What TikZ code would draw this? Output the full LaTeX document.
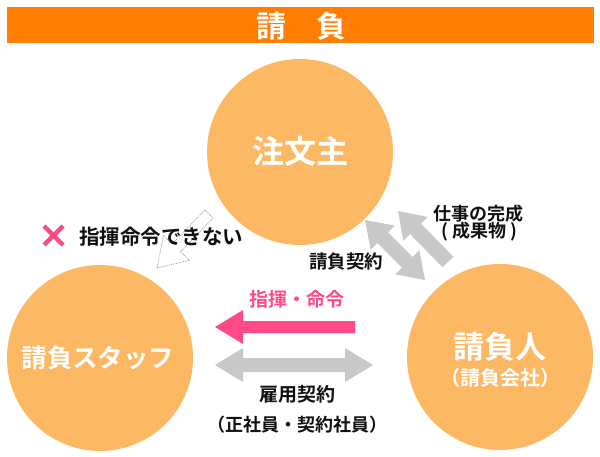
\documentclass[tikz,border=0pt]{standalone}
\usepackage{fontspec}
\setmainfont{Noto Sans CJK JP}[BoldFont=* Bold]
\usetikzlibrary{calc}
\definecolor{barorange}{HTML}{FF7D00}
\definecolor{circorange}{HTML}{FDB863}
\definecolor{pinkc}{HTML}{FF4A86}
\definecolor{grayc}{HTML}{C8C8C8}
\definecolor{dotgray}{HTML}{9A9A9A}
\definecolor{txtc}{HTML}{111111}
% double-headed block arrow: style, tip A, tip B, head length, shaft half width, head half width
\newcommand{\dblarrow}[6]{%
  \coordinate (c1) at ($(#3)!#4!(#2)$);
  \coordinate (c2) at ($(#2)!#4!(#3)$);
  \path[#1] (#3) -- ($(c1)!#6!90:(#3)$) -- ($(c1)!#5!90:(#3)$) -- ($(c2)!#5!90:(#3)$) -- ($(c2)!#6!90:(#3)$) -- (#2)
    -- ($(c2)!#6!-90:(#3)$) -- ($(c2)!#5!-90:(#3)$) -- ($(c1)!#5!-90:(#3)$) -- ($(c1)!#6!-90:(#3)$) -- cycle;}
% single block arrow: style, tail A, tip B, head length, shaft half width, head half width
\newcommand{\sglarrow}[6]{%
  \coordinate (c1) at ($(#3)!#4!(#2)$);
  \path[#1] ($(#2)!#5!90:(#3)$) -- ($(c1)!#5!90:(#3)$) -- ($(c1)!#6!90:(#3)$) -- (#3)
    -- ($(c1)!#6!-90:(#3)$) -- ($(c1)!#5!-90:(#3)$) -- ($(#2)!#5!-90:(#3)$) -- cycle;}
\tikzset{
  party/.style={circle, fill=circorange, minimum size=186pt, inner sep=0pt},
  wtext/.style={text=white, font=\bfseries, inner sep=0pt},
  btext/.style={text=txtc, font=\bfseries, inner sep=0pt},
}
\begin{document}
\begin{tikzpicture}[x=1pt, y=-1pt]
\useasboundingbox (0,0) rectangle (600,457);
\fill[white] (0,0) rectangle (600,457);
% title bar
\node[fill=barorange, minimum width=587pt, minimum height=36pt, inner sep=0pt] (bar) at (300.5,25) {};
\node[wtext, font=\bfseries\fontsize{30}{32}\selectfont] (title) at (301,26) {請　負};
% circles
\node[party] (client) at (300,152) {};
\node[party] (staff) at (100,358) {};
\node[party] (contractor) at (500,357) {};
\node[wtext, font=\bfseries\fontsize{32}{34}\selectfont] (clientlbl) at (300,151) {注文主};
\node[wtext, font=\bfseries\fontsize{25.5}{28}\selectfont] (stafflbl) at (98,358) {請負スタッフ};
\node[wtext, font=\bfseries\fontsize{31}{33}\selectfont] (contrlbl) at (500,347) {請負人};
\node[wtext, font=\bfseries\fontsize{20}{22}\selectfont] (contrsub) at (500,378) {（請負会社）};
% arrows
\coordinate (pinkA) at (355,327);
\coordinate (pinkB) at (215,327);
\sglarrow{fill=pinkc}{pinkA}{pinkB}{28pt}{6pt}{17pt}
\coordinate (empA) at (215,365);
\coordinate (empB) at (373,365);
\dblarrow{fill=grayc}{empA}{empB}{28pt}{7pt}{17pt}
\coordinate (conA) at (365,220);
\coordinate (conB) at (425,280);
\dblarrow{fill=grayc}{conA}{conB}{25pt}{7.5pt}{17pt}
\coordinate (workA) at (448,262);
\coordinate (workB) at (398,211);
\sglarrow{fill=grayc}{workA}{workB}{25pt}{7.5pt}{17pt}
\coordinate (noA) at (209,214);
\coordinate (noB) at (157,268);
\sglarrow{draw=dotgray, densely dotted, line width=0.8pt}{noA}{noB}{28pt}{5.7pt}{18pt}
% labels
\node[btext, text=pinkc, font=\bfseries\fontsize{19}{21}\selectfont] (cmd) at (297,299) {指揮・命令};
\node[btext, font=\bfseries\fontsize{19}{21}\selectfont] (emp) at (297,394) {雇用契約};
\node[btext, font=\bfseries\fontsize{18}{20}\selectfont] (empsub) at (297,425) {（正社員・契約社員）};
\node[btext, font=\bfseries\fontsize{18.5}{20}\selectfont] (con) at (346,262) {請負契約};
\node[btext, font=\bfseries\fontsize{18}{20}\selectfont] (work) at (478,214) {仕事の完成};
\node[btext, font=\bfseries\fontsize{18}{20}\selectfont] (worksub) at (479,232) {( 成果物 )};
\node[btext, font=\bfseries\fontsize{20.5}{22}\selectfont] (nocmd) at (161,237) {指揮命令できない};
% cross mark
\draw[pinkc, line width=4.5pt] (44,226) -- (63,245);
\draw[pinkc, line width=4.5pt] (63,226) -- (44,245);
\end{tikzpicture}
\end{document}
